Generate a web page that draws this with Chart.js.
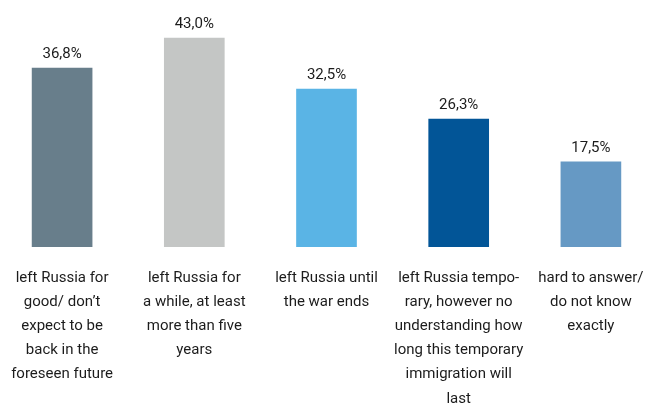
<!DOCTYPE html>
<html>
<head>
<meta charset="utf-8">
<script src="https://cdn.jsdelivr.net/npm/chart.js@4/dist/chart.umd.min.js"></script>
<style>
  html, body { margin: 0; padding: 0; background: #ffffff; overflow: hidden; }
  #outer { width: 657px; height: 404px; position: relative; overflow: hidden; }
  #wrap { width: 661px; height: 404px; position: absolute; left: -4px; top: 0; }
</style>
</head>
<body>
<div id="outer"><div id="wrap"><canvas id="c"></canvas></div></div>
<script>
const categories = [
  ["left Russia for", "good/ don\u2019t", "expect to be", "back in the", "foreseen future"],
  ["left Russia for", "a while, at least", "more than five", "years"],
  ["left Russia until", "the war ends"],
  ["left Russia tempo-", "rary, however no", "understanding how", "long this temporary", "immigration will", "last"],
  ["hard to answer/", "do not know", "exactly"]
];
const values = [36.8, 43.0, 32.5, 26.3, 17.5];
const barColors = ["#687e8b", "#c4c6c5", "#5ab4e5", "#025597", "#6699c4"];

const valueLabels = {
  id: 'valueLabels',
  afterDatasetsDraw(chart) {
    const ctx = chart.ctx;
    const meta = chart.getDatasetMeta(0);
    ctx.save();
    ctx.font = '15px Roboto';
    ctx.fillStyle = '#1c1c1c';
    ctx.textAlign = 'center';
    ctx.textBaseline = 'alphabetic';
    meta.data.forEach((bar, i) => {
      const txt = values[i].toFixed(1).replace('.', ',') + '%';
      ctx.fillText(txt, bar.x, bar.y - 10);
    });
    ctx.restore();
  }
};

new Chart(document.getElementById('c'), {
  type: 'bar',
  data: {
    labels: categories,
    datasets: [{
      data: values,
      backgroundColor: barColors,
      barThickness: 60,
      borderWidth: 0
    }]
  },
  plugins: [valueLabels],
  options: {
    responsive: true,
    maintainAspectRatio: false,
    animation: false,
    layout: { padding: { top: 4, left: 0, right: 0, bottom: 0 } },
    plugins: { legend: { display: false }, tooltip: { enabled: false } },
    scales: {
      x: {
        grid: { display: false },
        border: { display: false },
        afterFit(scale) { scale.height = 157; },
        ticks: {
          color: '#1c1c1c',
          font: { family: 'Roboto', size: 15, lineHeight: 1.61 },
          padding: 11,
          maxRotation: 0,
          autoSkip: false
        }
      },
      y: {
        display: false,
        min: 0,
        max: 50
      }
    }
  }
});
</script>
</body>
</html>
